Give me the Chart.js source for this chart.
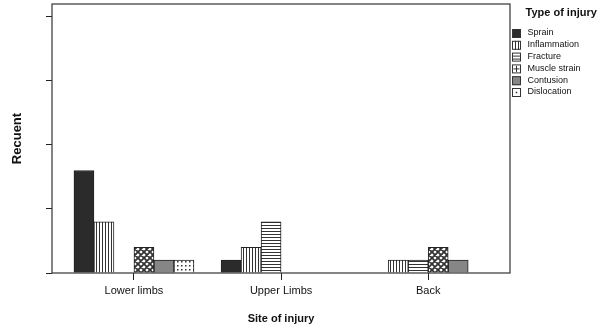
<!DOCTYPE html>
<html>
<head>
<meta charset="utf-8">
<style>
  html, body { margin: 0; padding: 0; background: #fff; }
  #chart { display: block; }
</style>
</head>
<body>
<canvas id="chart" width="602" height="334"></canvas>
<script src="https://cdn.jsdelivr.net/npm/chart.js@4.4.1/dist/chart.umd.min.js"></script>
<script>
const sites = ["Lower limbs", "Upper Limbs", "Back"];
const injuryTypes = ["Sprain", "Inflammation", "Fracture", "Muscle strain", "Contusion", "Dislocation"];
const sprain = [8, 1, 0];
const inflammation = [4, 2, 1];
const fracture = [0, 4, 1];
const muscleStrain = [2, 0, 2];
const contusion = [1, 0, 1];
const dislocation = [1, 0, 0];
const seriesValues = [sprain, inflammation, fracture, muscleStrain, contusion, dislocation];

const FONT = "'Liberation Sans', Arial, sans-serif";
const INK = "#222";

const canvas = document.getElementById("chart");
const ctx = canvas.getContext("2d");

function makePattern(size, draw) {
  const tile = document.createElement("canvas");
  tile.width = size;
  tile.height = size;
  const g = tile.getContext("2d");
  g.fillStyle = "#fff";
  g.fillRect(0, 0, size, size);
  g.fillStyle = "#333";
  g.strokeStyle = "#333";
  draw(g, size);
  return ctx.createPattern(tile, "repeat");
}

const fills = [
  "#2b2b2b",
  makePattern(3, (g) => g.fillRect(0, 0, 1, 3)),
  makePattern(3, (g) => g.fillRect(0, 0, 3, 1)),
  makePattern(6, (g, s) => {
    g.lineWidth = 1.8;
    g.beginPath();
    for (let k = -s; k <= 2 * s; k += s) {
      g.moveTo(k, 0); g.lineTo(k + s, s);
      g.moveTo(k + s, 0); g.lineTo(k, s);
    }
    g.stroke();
  }),
  "#868686",
  makePattern(4, (g) => g.fillRect(1, 1, 1.5, 1.5))
];

// small legend swatches, drawn by hand
function drawSwatch(c, i, x, y, s) {
  c.save();
  c.fillStyle = i === 0 ? "#2b2b2b" : i === 4 ? "#868686" : "#fff";
  c.fillRect(x, y, s, s);
  c.strokeStyle = "#333";
  c.lineWidth = 1;
  c.strokeRect(x + 0.5, y + 0.5, s - 1, s - 1);
  c.beginPath();
  if (i === 1) {
    c.moveTo(x + s / 3 + 0.5, y); c.lineTo(x + s / 3 + 0.5, y + s);
    c.moveTo(x + 2 * s / 3 + 0.5, y); c.lineTo(x + 2 * s / 3 + 0.5, y + s);
  } else if (i === 2) {
    c.moveTo(x, y + s / 3 + 0.5); c.lineTo(x + s, y + s / 3 + 0.5);
    c.moveTo(x, y + 2 * s / 3 + 0.5); c.lineTo(x + s, y + 2 * s / 3 + 0.5);
  } else if (i === 3) {
    c.moveTo(x + s / 2, y + 1.5); c.lineTo(x + s / 2, y + s - 1.5);
    c.moveTo(x + 1.5, y + s / 2); c.lineTo(x + s - 1.5, y + s / 2);
  }
  c.stroke();
  if (i === 5) {
    c.fillStyle = "#333";
    c.fillRect(x + s / 2 - 0.75, y + s / 2 - 0.75, 1.5, 1.5);
  }
  c.restore();
}

const framePlugin = {
  id: "frame",
  afterDatasetsDraw(chart) {
    const { ctx: c, chartArea: a } = chart;
    c.save();
    c.strokeStyle = "#333";
    c.lineWidth = 1.2;
    c.strokeRect(a.left, a.top, a.right - a.left, a.bottom - a.top);
    c.restore();
  },
  afterDraw(chart) {
    const c = chart.ctx;
    c.save();
    c.fillStyle = "#111";
    c.textBaseline = "middle";
    c.font = `bold 11px ${FONT}`;
    c.fillText("Type of injury", 525.5, 13);
    c.font = `9px ${FONT}`;
    injuryTypes.forEach((name, i) => {
      const y = 33 + i * 11.8;
      drawSwatch(c, i, 512, y - 4, 9);
      c.fillStyle = "#111";
      c.fillText(name, 527.5, y);
    });
    c.restore();
  }
};

new Chart(canvas, {
  type: "bar",
  data: {
    datasets: injuryTypes.map((name, i) => ({
      label: name,
      data: seriesValues[i].map((v, k) => ({ x: k, y: v })),
      backgroundColor: fills[i],
      borderColor: INK,
      borderWidth: 1,
      borderSkipped: "bottom",
      barThickness: 20
    }))
  },
  options: {
    responsive: false,
    animation: false,
    layout: { padding: { top: 4, right: 92, left: 0, bottom: 0 } },
    plugins: {
      legend: { display: false },
      tooltip: { enabled: false }
    },
    scales: {
      x: {
        type: "linear",
        min: -0.557,
        max: 2.556,
        offset: false,
        border: { display: false },
        grid: { offset: false, drawOnChartArea: false, drawTicks: true, tickLength: 7, color: INK },
        ticks: {
          stepSize: 1,
          includeBounds: false,
          autoSkip: false,
          maxRotation: 0,
          padding: 4,
          color: "#111",
          font: { family: FONT, size: 11 },
          callback: (v) => sites[v] ?? ""
        },
        title: {
          display: true,
          text: "Site of injury",
          color: "#111",
          font: { family: FONT, size: 11, weight: "bold" },
          padding: { bottom: 8 }
        },
        afterFit: (scale) => { scale.height = 61; }
      },
      y: {
        min: 0,
        max: 21,
        border: { display: false },
        grid: { drawOnChartArea: false, drawTicks: true, tickLength: 6, color: INK },
        ticks: {
          display: false,
          stepSize: 5,
          includeBounds: false
        },
        title: {
          display: true,
          text: "Recuent",
          color: "#111",
          font: { family: FONT, size: 13, weight: "bold" },
          padding: { top: 10 }
        },
        afterFit: (scale) => { scale.width = 52; }
      }
    }
  },
  plugins: [framePlugin]
});
</script>
</body>
</html>
